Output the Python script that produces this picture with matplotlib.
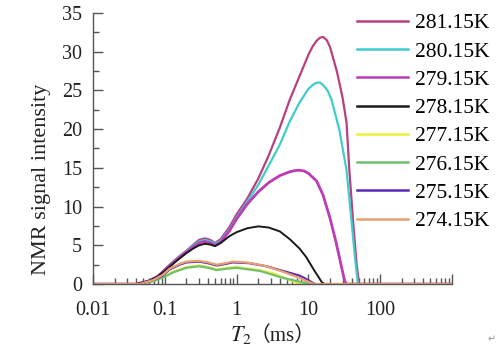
import matplotlib
matplotlib.use("Agg")
import matplotlib.pyplot as plt
from matplotlib.ticker import FixedLocator, LogLocator, NullFormatter, MultipleLocator

plt.rcParams['font.family'] = ['Liberation Serif', 'Noto Sans CJK SC', 'DejaVu Sans']
plt.rcParams['mathtext.fontset'] = 'stix'

# T2 弛豫时间 (ms) 与信号强度
t_281 = [0.01, 0.04, 0.06, 0.08, 0.1, 0.13, 0.16, 0.2, 0.25, 0.3, 0.36, 0.43, 0.5, 0.6, 0.8, 1.0,
         1.4, 2.0, 2.8, 4.0, 5.5, 7.5, 10, 11.5, 13, 14.5, 16, 18, 20, 25, 30, 34, 37, 42, 47, 51, 1000]
v_281 = [0, 0, 0.4, 1.0, 1.9, 2.9, 3.6, 4.3, 5.1, 5.7, 5.9, 5.7, 5.3, 5.8, 7.4, 9.0,
         11.0, 13.6, 16.6, 20.2, 23.8, 26.8, 29.6, 30.7, 31.4, 31.8, 31.9, 31.5, 30.6, 27.4, 24.0,
         20.8, 15.0, 8.0, 2.5, 0, 0]

t_280 = [0.01, 0.04, 0.06, 0.08, 0.1, 0.13, 0.16, 0.2, 0.25, 0.3, 0.36, 0.43, 0.5, 0.6, 0.8, 1.0,
         1.4, 2.0, 2.8, 4.0, 5.5, 7.5, 10, 11.5, 13, 14.5, 16, 18.5, 21, 27, 34, 40, 45, 49, 1000]
v_280 = [0, 0, 0.4, 1.0, 1.8, 2.8, 3.5, 4.2, 5.0, 5.5, 5.7, 5.5, 5.2, 5.6, 7.1, 8.6,
         10.6, 12.8, 15.3, 18.0, 21.0, 23.4, 25.2, 25.7, 26.0, 26.0, 25.7, 25.0, 23.8, 19.9,
         14.7, 8.0, 3.0, 0, 0]

t_279 = [0.01, 0.04, 0.06, 0.08, 0.1, 0.13, 0.16, 0.2, 0.25, 0.3, 0.36, 0.43, 0.5, 0.6, 0.8, 1.0,
         1.4, 2.0, 2.8, 4.0, 5.5, 6.5, 7.5, 8.7, 10, 13, 16, 20, 24, 28, 32, 34, 1000]
v_279 = [0, 0, 0.4, 1.0, 1.8, 2.7, 3.4, 4.1, 4.8, 5.3, 5.5, 5.3, 5.0, 5.4, 6.9, 8.4,
         10.3, 11.9, 13.1, 14.0, 14.5, 14.65, 14.7, 14.6, 14.3, 13.3, 11.5, 8.5, 5.6, 2.8, 0.4, 0, 0]

t_278 = [0.01, 0.04, 0.06, 0.08, 0.1, 0.13, 0.16, 0.2, 0.25, 0.3, 0.36, 0.43, 0.5, 0.6, 0.8, 1.0,
         1.4, 2.0, 2.8, 4.0, 5.5, 7.5, 9.3, 12, 15.5, 17, 1000]
v_278 = [0, 0, 0.4, 1.0, 1.7, 2.6, 3.3, 4.0, 4.6, 5.0, 5.2, 5.1, 4.9, 5.3, 6.2, 6.7,
         7.2, 7.45, 7.3, 6.8, 5.8, 4.6, 3.5, 1.8, 0.2, 0, 0]

t_277 = [0.01, 0.045, 0.07, 0.1, 0.13, 0.2, 0.3, 0.4, 0.53, 0.75, 1.0, 2.1, 3.2, 4.4, 5.5, 6.8, 7.5, 1000]
v_277 = [0, 0, 0.4, 1.0, 1.6, 2.2, 2.4, 2.2, 1.9, 2.1, 2.2, 1.8, 1.4, 0.9, 0.5, 0.2, 0, 0]

t_276 = [0.01, 0.045, 0.07, 0.1, 0.13, 0.2, 0.3, 0.4, 0.53, 0.75, 1.0, 2.1, 3.2, 4.4, 6.8, 9, 11, 1000]
v_276 = [0, 0, 0.4, 0.95, 1.5, 2.1, 2.3, 2.1, 1.8, 2.0, 2.1, 1.7, 1.2, 0.8, 0.4, 0.15, 0, 0]

t_275 = [0.01, 0.045, 0.068, 0.094, 0.117, 0.16, 0.2, 0.3, 0.4, 0.53, 0.7, 0.88, 1.5, 2.6, 4.4, 7.5, 10, 12, 13, 1000]
v_275 = [0, 0, 0.5, 1.1, 1.9, 2.5, 2.8, 2.9, 2.7, 2.4, 2.6, 2.8, 2.7, 2.3, 1.7, 1.1, 0.5, 0.05, 0, 0]

t_274 = [0.01, 0.045, 0.068, 0.094, 0.117, 0.16, 0.2, 0.3, 0.4, 0.53, 0.7, 0.88, 1.5, 2.6, 4.4, 7.5, 10, 12, 1000]
v_274 = [0, 0, 0.5, 1.2, 2.0, 2.6, 2.9, 3.0, 2.8, 2.5, 2.7, 2.9, 2.75, 2.3, 1.6, 0.8, 0.3, 0, 0]

labels = ['281.15K', '280.15K', '279.15K', '278.15K', '277.15K', '276.15K', '275.15K', '274.15K']
colors = ['#b8407f', '#40cccc', '#bb3cb6', '#1a1a1a', '#eeee3a', '#70c070', '#5a28b8', '#e8a070']
widths = [1.6, 1.6, 2.0, 1.4, 1.6, 1.6, 1.6, 1.6]

series = [(t_281, v_281), (t_280, v_280), (t_279, v_279), (t_278, v_278),
          (t_277, v_277), (t_276, v_276), (t_275, v_275), (t_274, v_274)]

fig = plt.figure(figsize=(5, 3.49), dpi=100)
ax = fig.add_axes([0.186, 0.186, 0.718, 0.777])

for (t, v), lab, c, w in zip(series, labels, colors, widths):
    ax.plot(t, v, color=c, lw=w, label=lab, solid_joinstyle='round')

ax.set_xscale('log')
ax.set_xlim(0.01, 1000)
ax.set_ylim(0, 35)

ax.xaxis.set_major_locator(FixedLocator([0.01, 0.1, 1, 10, 100, 1000]))
ax.set_xticklabels(['0.01', '0.1', '1', '10', '100', ''])
ax.xaxis.set_minor_locator(LogLocator(base=10, subs=range(2, 10)))
ax.xaxis.set_minor_formatter(NullFormatter())
ax.yaxis.set_major_locator(MultipleLocator(5))
ax.yaxis.set_minor_locator(MultipleLocator(2.5))

for side in ['top', 'right']:
    ax.spines[side].set_visible(False)
for side in ['left', 'bottom']:
    ax.spines[side].set_color('#555555')
    ax.spines[side].set_linewidth(1.0)

ax.tick_params(which='both', direction='in', colors='#555555', labelcolor='#222222', labelsize=14.5)
ax.tick_params(which='major', length=7, width=1.0)
ax.tick_params(which='minor', length=4, width=1.0)
ax.tick_params(axis='x', pad=12)
ax.tick_params(axis='y', pad=8)

ax.set_ylabel('NMR signal intensity', fontsize=16, color='#222222')
ax.yaxis.set_label_coords(-0.117, 0.388)

# 横轴标题：T2 与全角括号分开写
fig.text(0.46, 0.022, '$T_2$', fontsize=16, color='#222222', ha='left', va='baseline')
fig.text(0.50, 0.022, '（ms）', fontsize=15, color='#222222', ha='left', va='baseline')
fig.text(0.975, 0.02, '↵', fontsize=7, color='#999999', family='DejaVu Sans')

leg = ax.legend(loc='upper left', bbox_to_anchor=(0.71, 1.03), frameon=False,
                fontsize=15.5, handlelength=2.4, handletextpad=0.3,
                labelspacing=0.38, borderaxespad=0)
for line in leg.get_lines():
    line.set_linewidth(1.8)

fig.savefig('out.png', dpi=100, facecolor='white')
